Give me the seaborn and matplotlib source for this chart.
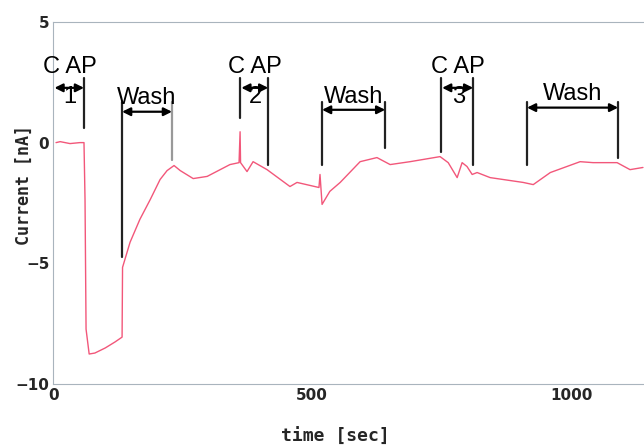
import matplotlib
matplotlib.use("Agg")
import matplotlib.pyplot as plt
import seaborn as sns
import pandas as pd

# current trace
time_sec = [5, 13, 32, 51, 59, 61, 63, 69, 80, 100, 119, 132.6, 133.5, 148, 167, 187, 206,
            219.5, 233, 245, 270, 297, 341, 358.6, 360.6, 361.5, 374, 385.7, 412.7, 457,
            470.6, 513, 515, 519, 534, 554, 592.5, 625, 650.5, 689, 747, 762.7, 780,
            789.6, 799, 809, 818.6, 843.7, 907.5, 927, 960, 992, 1017.6, 1042.6, 1089,
            1114, 1139]
current_na = [0.0, 0.04, -0.04, 0.0, 0.0, -2.36, -7.73, -8.76, -8.72, -8.51, -8.26, -8.06,
              -5.17, -4.13, -3.18, -2.36, -1.53, -1.16, -0.95, -1.16, -1.49, -1.40, -0.91,
              -0.83, 0.45, -0.83, -1.2, -0.79, -1.12, -1.82, -1.65, -1.86, -1.32, -2.56,
              -2.02, -1.65, -0.79, -0.62, -0.91, -0.79, -0.58, -0.83, -1.45, -0.83, -0.99,
              -1.32, -1.24, -1.45, -1.65, -1.74, -1.24, -0.99, -0.79, -0.83, -0.83, -1.12,
              -1.03]

# CAP application windows: (start, end, label)
cap_windows = [(0, 59, "1"), (361, 415, "2"), (749, 811, "3")]
cap_line_bottoms = [(None, 0.62), (1.03, -0.91), (-0.37, -0.91)]
# wash windows: (start, end)
wash_windows = [(132.6, 229), (519, 641), (915, 1091)]
wash_line_bottoms = [(-4.75, -0.7), (-0.91, -0.21), (-0.91, -0.62)]
wash_arrow_y = [1.28, 1.36, 1.45]

df = pd.DataFrame({"time": time_sec, "current": current_na})

sns.set_style("white")
fig = plt.figure(figsize=(6.44, 4.48), dpi=100)
ax = fig.add_axes([0.083, 0.143, 0.917, 0.808])

sns.lineplot(data=df, x="time", y="current", ax=ax, color="#f2577a", linewidth=1.0)

ax.set_xlim(0, 1141)
ax.set_ylim(-10, 5)
ax.set_xticks([0, 500, 1000])
ax.set_yticks([-10, -5, 0, 5])
for side in ["left", "top", "bottom"]:
    ax.spines[side].set_color("#a9b4bd")
    ax.spines[side].set_linewidth(0.8)
ax.spines["right"].set_visible(False)
ax.tick_params(axis="both", direction="inout", length=4, color="#a9b4bd", labelsize=11, pad=1)
for lab in ax.get_xticklabels() + ax.get_yticklabels():
    lab.set_fontweight("bold")

ax.set_xlabel("time [sec]", family="DejaVu Sans Mono", fontweight="bold", fontsize=13)
ax.set_ylabel("Current [nA]", family="DejaVu Sans Mono", fontweight="bold", fontsize=12)
ax.xaxis.set_label_coords(0.478, -0.12)
ax.yaxis.set_label_coords(-0.035, 0.55)

txt = dict(family="Liberation Sans", fontsize=17, ha="center", va="center", color="black")
arrow = dict(arrowstyle="<|-|>", color="black", lw=1.6, mutation_scale=12, shrinkA=0, shrinkB=0)

for (t0, t1, num), (b0, b1) in zip(cap_windows, cap_line_bottoms):
    ax.text((t0 + t1) / 2 + 2, 3.15, "C AP", **txt)
    ax.annotate("", xy=(t0 + 2, 2.27), xytext=(t1, 2.27), arrowprops=arrow)
    ax.text((t0 + t1) / 2 + 2, 1.9, num, **txt)
    if b0 is not None:
        ax.plot([t0, t0], [2.69, b0], color="#222", lw=1.6)
    ax.plot([t1, t1], [2.69, b1], color="#222", lw=1.6)

for (t0, t1), (b0, b1), ay in zip(wash_windows, wash_line_bottoms, wash_arrow_y):
    ax.text((t0 + t1) / 2, ay + 0.55, "Wash", **txt)
    ax.annotate("", xy=(t0, ay), xytext=(t1, ay), arrowprops=arrow)
    ax.plot([t0, t0], [1.7, b0], color="#222", lw=1.6)
    ax.plot([t1, t1], [1.7, b1], color="#222" if t0 > 200 else "#999", lw=1.6)

fig.savefig("out.png", dpi=100)
